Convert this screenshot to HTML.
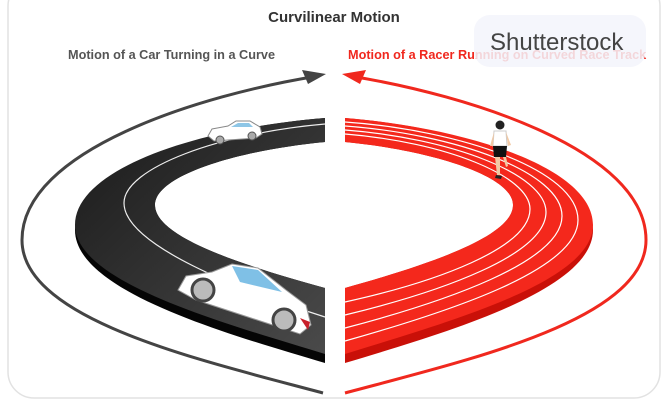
<!DOCTYPE html>
<html><head><meta charset="utf-8"><style>
html,body{margin:0;padding:0;background:#fff;}
body{width:668px;height:403px;overflow:hidden;position:relative;font-family:"Liberation Sans","DejaVu Sans",sans-serif;}
</style></head><body>
<svg width="668" height="403" viewBox="0 0 668 403" xmlns="http://www.w3.org/2000/svg">
<defs>
<linearGradient id="rd" x1="0" y1="0" x2="1" y2="1">
<stop offset="0" stop-color="#1a1a1a"/><stop offset="1" stop-color="#4a4a4a"/></linearGradient>
</defs>
<rect x="8" y="-20" width="652" height="418" rx="26" fill="#fff" stroke="#e2e2e2" stroke-width="1.5"/>
<text x="334" y="22" text-anchor="middle" font-size="15" font-weight="bold" fill="#333">Curvilinear Motion</text>
<text x="68" y="59" font-size="12.7" font-weight="bold" fill="#555">Motion of a Car Turning in a Curve</text>
<text x="348" y="59" font-size="12.7" font-weight="bold" fill="#f0281e">Motion of a Racer Running on Curved Race Track</text>
<rect x="474" y="15" width="172" height="52" rx="16" fill="#f3f5fb" opacity="0.85"/>
<text x="490" y="50" font-size="24" fill="#444">Shutterstock</text>

<!-- arrows -->
<path d="M318,76 C200,95 22,150 22,240 C22,320 200,360 323,393" fill="none" stroke="#444" stroke-width="3"/>
<polygon points="326,74 302,70 308,84" fill="#444"/>
<path d="M350,76 C468,95 646,150 646,240 C646,320 468,360 345,393" fill="none" stroke="#f0281e" stroke-width="3"/>
<polygon points="342,74 366,70 360,84" fill="#f0281e"/>

<!-- road -->
<path d="M325,118 C200,128 75,170 75,230 C75,290 220,332 325,363 L325,288 C230,262 155,235 155,205 C155,175 240,150 325,142 Z" fill="#050505"/>
<path d="M325,118 C200,128 75,168 75,225 C75,282 220,322 325,354 L325,288 C230,262 155,235 155,205 C155,175 240,150 325,142 Z" fill="url(#rd)"/>
<path d="M325,124 C220,133 124,168 124,203 C124,245 240,290 325,317" fill="none" stroke="#eee" stroke-width="1.2"/>

<!-- track -->
<path d="M345,118 C468,128 593,170 593,230 C593,290 448,332 345,363 L345,288 C438,262 513,235 513,205 C513,175 428,150 345,142 Z" fill="#c91008"/>
<path d="M345,118 C468,128 593,168 593,225 C593,282 448,322 345,354 L345,288 C438,262 513,235 513,205 C513,175 428,150 345,142 Z" fill="#f4281c"/>
<g fill="none" stroke="#fff" stroke-width="1.2">
<path d="M345,122 C460,130 578,170 578,220 C578,270 448,312 345,341"/>
<path d="M345,126 C455,134 562,172 562,216 C562,262 444,302 345,328"/>
<path d="M345,130 C450,138 546,174 546,212 C546,255 440,292 345,315"/>
<path d="M345,134 C445,142 530,176 530,209 C530,248 436,282 345,302"/>
</g>

<!-- small car -->
<g>
<path d="M208,136 L212,129 L228,126 L236,121 L250,121 L260,127 L262,134 L256,138 L214,141 Z" fill="#fff" stroke="#888" stroke-width="1"/>
<path d="M231,127 L238,123 L249,123 L253,127 Z" fill="#8ec6e6"/>
<circle cx="220" cy="140" r="4" fill="#aaa" stroke="#555"/>
<circle cx="252" cy="136" r="4" fill="#aaa" stroke="#555"/>
</g>
<!-- big car -->
<g>
<path d="M178,290 L186,276 L212,272 L232,264 L258,268 L286,290 L306,305 L311,325 L300,334 L196,300 Z" fill="#fff" stroke="#999" stroke-width="1"/>
<path d="M232,266 L258,270 L282,292 L240,282 Z" fill="#7fc0e6"/>
<path d="M300,318 L310,322 L308,330 Z" fill="#c8202a"/>
<circle cx="203" cy="290" r="11" fill="#bbb" stroke="#444" stroke-width="3"/>
<circle cx="284" cy="320" r="11" fill="#bbb" stroke="#444" stroke-width="3"/>
</g>
<!-- runner -->
<g>
<circle cx="500" cy="125" r="4.5" fill="#222"/>
<path d="M494,131 L506,131 L507,146 L493,146 Z" fill="#fff" stroke="#ccc"/>
<path d="M494,132 L490,146 L493,146 Z M506,132 L511,145 L508,146 Z" fill="#f1c9a5"/>
<path d="M493,146 L507,146 L506,157 L494,157 Z" fill="#111"/>
<path d="M495,157 L497,175 L500,175 L500,157 Z M503,157 L506,167 L508,166 L506,157 Z" fill="#f1c9a5"/>
<path d="M496,175 L502,176 L501,179 L495,178 Z" fill="#222"/>
</g>
</svg>
</body></html>
